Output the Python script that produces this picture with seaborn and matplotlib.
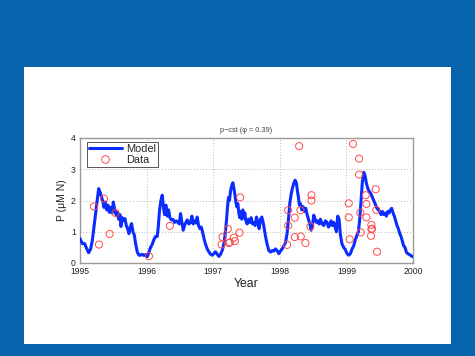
import numpy as np
import pandas as pd
import matplotlib
matplotlib.use("Agg")
import matplotlib.pyplot as plt
from matplotlib.lines import Line2D
from matplotlib.patches import Rectangle
import seaborn as sns

# ---- data ----
model_year = [
    1995.000, 1995.035, 1995.070, 1995.100, 1995.130, 1995.160, 1995.185, 1995.210, 1995.235, 1995.260,
    1995.280, 1995.305, 1995.325, 1995.345, 1995.360, 1995.380, 1995.400, 1995.420, 1995.440, 1995.460,
    1995.480, 1995.500, 1995.520, 1995.540, 1995.560, 1995.580, 1995.600, 1995.615, 1995.635, 1995.655,
    1995.675, 1995.695, 1995.715, 1995.735, 1995.755, 1995.775, 1995.795, 1995.815, 1995.835, 1995.860,
    1995.885, 1995.910, 1995.935, 1995.960, 1995.985, 1996.010, 1996.035, 1996.060, 1996.085, 1996.110,
    1996.135, 1996.160, 1996.175, 1996.195, 1996.215, 1996.235, 1996.255, 1996.270, 1996.290, 1996.310,
    1996.330, 1996.350, 1996.370, 1996.395, 1996.420, 1996.445, 1996.470, 1996.490, 1996.510, 1996.530,
    1996.550, 1996.570, 1996.590, 1996.610, 1996.635, 1996.660, 1996.680, 1996.700, 1996.720, 1996.740,
    1996.760, 1996.780, 1996.800, 1996.820, 1996.840, 1996.860, 1996.885, 1996.910, 1996.935, 1996.960,
    1996.985, 1997.010, 1997.035, 1997.060, 1997.085, 1997.110, 1997.135, 1997.160, 1997.180, 1997.200,
    1997.215, 1997.230, 1997.245, 1997.260, 1997.275, 1997.295, 1997.310, 1997.325, 1997.340, 1997.355,
    1997.370, 1997.385, 1997.400, 1997.415, 1997.430, 1997.445, 1997.460, 1997.475, 1997.490, 1997.510,
    1997.530, 1997.550, 1997.570, 1997.590, 1997.610, 1997.630, 1997.650, 1997.670, 1997.690, 1997.710,
    1997.730, 1997.750, 1997.770, 1997.790, 1997.810, 1997.835, 1997.860, 1997.885, 1997.910, 1997.935,
    1997.960, 1997.985, 1998.010, 1998.035, 1998.060, 1998.085, 1998.110, 1998.130, 1998.150, 1998.170,
    1998.190, 1998.210, 1998.230, 1998.250, 1998.265, 1998.280, 1998.295, 1998.310, 1998.330, 1998.350,
    1998.370, 1998.390, 1998.410, 1998.430, 1998.450, 1998.470, 1998.490, 1998.510, 1998.530, 1998.550,
    1998.570, 1998.590, 1998.610, 1998.635, 1998.660, 1998.685, 1998.710, 1998.730, 1998.750, 1998.770,
    1998.790, 1998.810, 1998.830, 1998.850, 1998.870, 1998.890, 1998.910, 1998.935, 1998.960, 1998.985,
    1999.010, 1999.035, 1999.060, 1999.085, 1999.110, 1999.135, 1999.160, 1999.180, 1999.200, 1999.220,
    1999.240, 1999.260, 1999.280, 1999.300, 1999.320, 1999.340, 1999.360, 1999.380, 1999.400, 1999.420,
    1999.440, 1999.460, 1999.480, 1999.500, 1999.520, 1999.540, 1999.560, 1999.580, 1999.600, 1999.620,
    1999.640, 1999.660, 1999.680, 1999.700, 1999.720, 1999.740, 1999.760, 1999.780, 1999.800, 1999.820,
    1999.840, 1999.860, 1999.880, 1999.900, 1999.920, 1999.940, 1999.960, 1999.980, 2000.000,
]
model_p = [
    0.78, 0.62, 0.62, 0.46, 0.33, 0.45, 0.72, 1.15, 1.58, 2.00,
    2.38, 2.25, 2.10, 1.95, 1.78, 1.95, 1.70, 1.85, 1.62, 1.78,
    1.60, 1.95, 1.72, 1.55, 1.62, 1.40, 1.55, 1.17, 1.45, 1.35,
    1.42, 1.20, 1.10, 0.94, 1.15, 1.26, 1.00, 0.90, 0.62, 0.35,
    0.25, 0.25, 0.28, 0.24, 0.27, 0.20, 0.35, 0.50, 0.60, 0.75,
    0.85, 0.85, 1.15, 1.70, 2.00, 2.17, 1.75, 1.55, 1.85, 1.50,
    1.70, 1.45, 1.38, 1.40, 1.30, 1.35, 1.30, 1.25, 1.58, 1.30,
    1.05, 1.20, 1.30, 1.38, 1.25, 1.30, 1.50, 1.25, 1.35, 1.28,
    1.47, 1.20, 1.10, 1.15, 1.00, 0.80, 0.60, 0.45, 0.36, 0.28,
    0.25, 0.30, 0.36, 0.28, 0.21, 0.28, 0.40, 0.60, 0.94, 1.37,
    1.80, 2.10, 2.00, 2.30, 2.45, 2.57, 2.40, 2.20, 1.95, 1.80,
    1.90, 1.60, 1.45, 1.65, 1.40, 1.70, 1.45, 1.60, 1.35, 1.25,
    1.40, 1.30, 1.45, 1.25, 1.30, 1.20, 1.47, 1.30, 1.10, 1.40,
    1.47, 1.30, 1.05, 0.80, 0.60, 0.40, 0.35, 0.40, 0.38, 0.45,
    0.40, 0.30, 0.38, 0.45, 0.55, 0.65, 0.95, 1.40, 1.90, 2.20,
    2.40, 2.55, 2.65, 2.55, 2.30, 2.10, 1.85, 1.90, 1.70, 1.80,
    1.65, 1.75, 1.55, 1.40, 1.25, 1.05, 1.20, 1.53, 1.40, 1.30,
    1.35, 1.25, 1.40, 1.25, 1.20, 1.35, 1.30, 1.15, 1.20, 1.35,
    1.20, 1.30, 1.15, 1.00, 1.50, 1.40, 0.90, 0.60, 0.50, 0.42,
    0.30, 0.25, 0.30, 0.45, 0.55, 0.75, 0.90, 1.00, 1.40, 2.00,
    2.60, 2.90, 2.80, 2.55, 2.40, 2.30, 2.25, 2.15, 2.05, 1.95,
    1.85, 1.75, 1.70, 1.65, 1.55, 1.65, 1.55, 1.60, 1.50, 1.65,
    1.60, 1.70, 1.75, 1.60, 1.50, 1.35, 1.20, 1.10, 0.95, 0.85,
    0.70, 0.55, 0.50, 0.35, 0.30, 0.28, 0.25, 0.22, 0.20,
]

data_year = [
    1995.21, 1995.285, 1995.36, 1995.445, 1995.535, 1996.035, 1996.35,
    1997.125, 1997.14, 1997.22, 1997.235, 1997.25, 1997.31, 1997.325, 1997.395, 1997.405,
    1998.11, 1998.125, 1998.125, 1998.225, 1998.225, 1998.29, 1998.31, 1998.315, 1998.385,
    1998.46, 1998.475, 1998.475,
    1999.035, 1999.035, 1999.05, 1999.10, 1999.19, 1999.19, 1999.21, 1999.215, 1999.29,
    1999.30, 1999.30, 1999.375, 1999.375, 1999.37, 1999.385, 1999.44, 1999.45, 1999.46,
]
data_p = [
    1.81, 0.59, 2.06, 0.93, 1.60, 0.22, 1.19,
    0.59, 0.83, 1.09, 0.64, 0.66, 0.81, 0.70, 0.97, 2.10,
    0.58, 1.20, 1.69, 1.45, 0.83, 3.74, 1.69, 0.85, 0.64,
    1.17, 2.17, 2.00,
    1.91, 1.46, 0.76, 3.81, 3.34, 2.83, 1.61, 0.98, 2.17,
    1.89, 1.46, 1.22, 1.08, 0.87, 1.10, 2.36, 1.70, 0.36,
]

year_ticks = [1995, 1996, 1997, 1998, 1999, 2000]
p_ticks = [0, 1, 2, 3, 4]

model_df = pd.DataFrame({"Year": model_year, "P": model_p})
data_df = pd.DataFrame({"Year": data_year, "P": data_p})

sns.set_style("white")
plt.rcParams["font.family"] = ["Liberation Sans", "DejaVu Sans"]

W, H = 475, 356
fig = plt.figure(figsize=(W / 100, H / 100), dpi=100)
fig.patch.set_facecolor("#0763ab")

# white slide panel (behind the axes)
panel = Rectangle((24 / W, 12 / H), 427 / W, 277 / H,
                  transform=fig.transFigure, facecolor="white",
                  edgecolor="none", zorder=-10)
fig.patches.append(panel)

ax = fig.add_axes([80 / W, 93 / H, 333 / W, 125 / H])
ax.set_zorder(5)
ax.set_facecolor("white")

sns.lineplot(data=model_df, x="Year", y="P", ax=ax, color="#0a2cff",
             linewidth=2.2, estimator=None, sort=False, zorder=3)
sns.scatterplot(data=data_df, x="Year", y="P", ax=ax, marker="o", s=26,
                facecolor="none", edgecolor="#ff4a4a", linewidth=0.7, zorder=4)

ax.set_xlim(1995, 2000)
ax.set_ylim(0, 4)
ax.set_xticks(year_ticks)
ax.set_xticklabels([str(t) for t in year_ticks])
ax.set_yticks(p_ticks)
ax.set_yticklabels([str(t) for t in p_ticks])
ax.tick_params(axis="both", labelsize=6.2, direction="in", length=2.5,
               width=0.6, color="#555555", labelcolor="#222222")
ax.tick_params(axis="x", pad=3.0)
ax.tick_params(axis="y", pad=3.0)
ax.grid(True, linestyle=(0, (1, 2.5)), color="#a0a0a0", linewidth=0.6)
for sp in ax.spines.values():
    sp.set_visible(True)
    sp.set_color("#9a9a9a")
    sp.set_linewidth(1.0)

ax.set_xlabel("Year", fontsize=8.8, labelpad=1.5, color="#222222")
ax.set_ylabel("P (\u03bcM N)", fontsize=7.5, labelpad=3, color="#222222")
ax.set_title("p\u2212cst (\u03c6 = 0.39)", fontsize=5.3, pad=4, color="#444444")

handles = [
    Line2D([0], [0], color="#0a2cff", linewidth=2.2, label="Model"),
    Line2D([0], [0], color="none", marker="o", markersize=5.5,
           markerfacecolor="none", markeredgecolor="#ff4a4a",
           markeredgewidth=0.7, label="Data"),
]
leg = ax.legend(handles=handles, loc="upper left", fontsize=7.9,
                frameon=True, fancybox=False, framealpha=1,
                edgecolor="#555555", borderpad=0.2, labelspacing=0.1,
                handlelength=3.0, handletextpad=0.4, borderaxespad=0,
                bbox_to_anchor=(0.02, 0.97))
leg.get_frame().set_linewidth(0.7)

fig.savefig("out.png", dpi=100, facecolor=fig.get_facecolor())
